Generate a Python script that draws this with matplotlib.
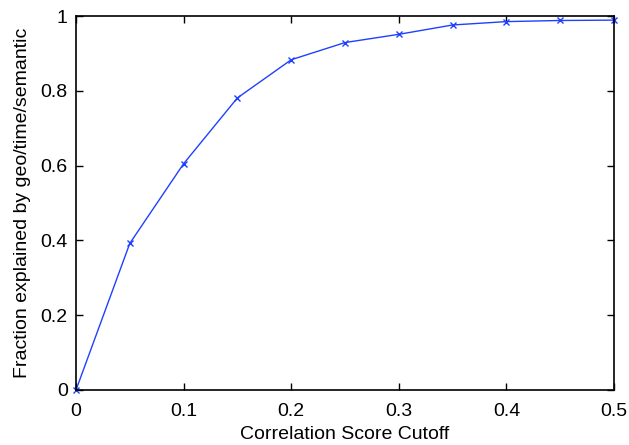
import matplotlib
matplotlib.use("Agg")
from matplotlib import pyplot as plt

cutoff = [0.0, 0.05, 0.1, 0.15, 0.2, 0.25, 0.3, 0.35, 0.4, 0.45, 0.5]
fraction = [0.0, 0.392, 0.605, 0.781, 0.883, 0.929, 0.951, 0.976, 0.985, 0.988, 0.989]

x_ticks = [0, 0.1, 0.2, 0.3, 0.4, 0.5]
x_labels = ["0", "0.1", "0.2", "0.3", "0.4", "0.5"]
y_ticks = [0, 0.2, 0.4, 0.6, 0.8, 1]
y_labels = ["0", "0.2", "0.4", "0.6", "0.8", "1"]

plt.rcParams["font.family"] = ["Liberation Sans", "DejaVu Sans"]
plt.rcParams["font.size"] = 14

fig = plt.figure(figsize=(6.29, 4.45), dpi=100)
ax = fig.add_axes([76 / 629, 55 / 445, 538 / 629, 374 / 445])

ax.plot(cutoff, fraction, color="#2040ff", linewidth=1.0, marker="x",
        markersize=5, markeredgewidth=1.0, clip_on=False)

ax.set_xlim(0, 0.5)
ax.set_ylim(0, 1)
ax.set_xticks(x_ticks)
ax.set_xticklabels(x_labels)
ax.set_yticks(y_ticks)
ax.set_yticklabels(y_labels)
ax.tick_params(direction="in", top=True, right=True, length=5, width=1, labelsize=14)
ax.tick_params(axis="x", pad=9)
ax.tick_params(axis="y", pad=6)
for spine in ax.spines.values():
    spine.set_linewidth(1.2)

ax.set_xlabel("Correlation Score Cutoff", fontsize=14, labelpad=5)
ax.set_ylabel("Fraction explained by geo/time/semantic", fontsize=14, labelpad=7)

fig.savefig("out.png", dpi=100)
